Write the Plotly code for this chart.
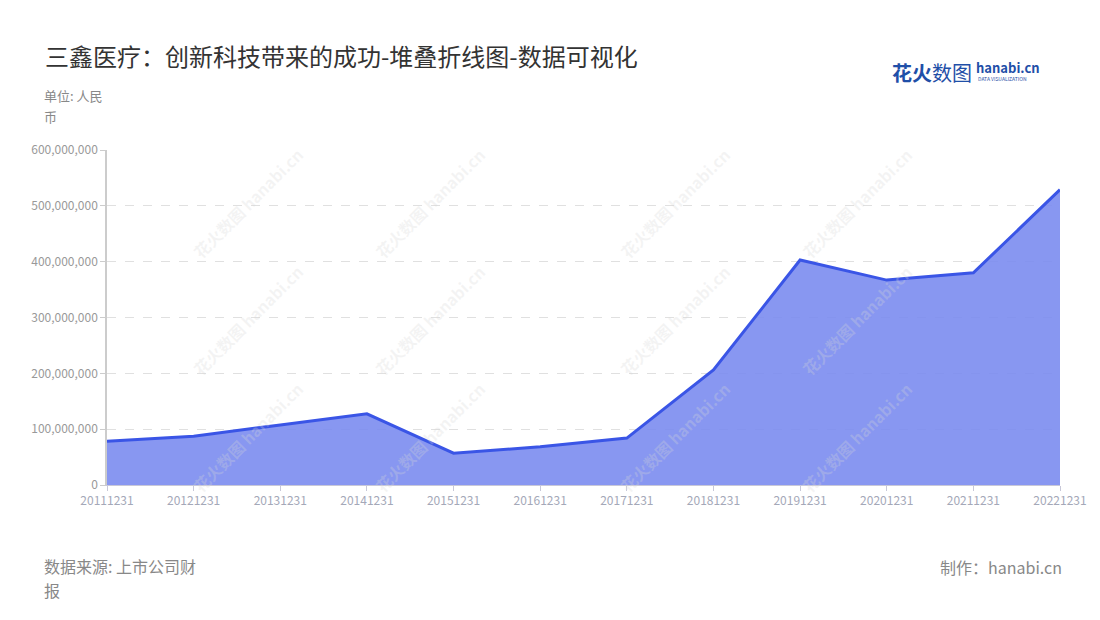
import plotly.graph_objects as go

# 报告期 / 数值 (人民币)
dates = ["20111231", "20121231", "20131231", "20141231", "20151231", "20161231",
         "20171231", "20181231", "20191231", "20201231", "20211231", "20221231"]
values = [78_500_000, 87_500_000, 107_500_000, 127_500_000, 57_000_000, 68_500_000,
          84_000_000, 206_000_000, 403_000_000, 367_000_000, 380_000_000, 529_000_000]

y_ticks = [0, 100_000_000, 200_000_000, 300_000_000, 400_000_000, 500_000_000, 600_000_000]

FONT = "Noto Sans CJK SC"

# page body adds an offset; layout numbers below are screen pixels
OFF = 8
L, R, T, B = 107, 1060, 150, 485


def px(x):
    return (x - L) / (R - L)


def py(y):
    return (B - y) / (B - T)


def note(x, y, text, size, color, xanchor="left"):
    return dict(x=px(x), y=py(y), xref="paper", yref="paper", text=text,
                showarrow=False, xanchor=xanchor, yanchor="middle",
                font=dict(family=FONT, size=size, color=color))


fig = go.Figure()
fig.add_scatter(
    x=dates,
    y=values,
    mode="lines",
    line=dict(color="#3a55e6", width=3),
    fill="tozeroy",
    fillcolor="rgba(120,137,239,0.88)",
    hoverinfo="x+y",
)

annotations = []
# tiled watermarks
for cx in [185, 430, 675, 920]:
    for cy in [140, 320, 500]:
        annotations.append(dict(
            x=px(cx), y=py(cy), xref="paper", yref="paper",
            text="<b>花火数图</b> <b>hanabi.cn</b>", showarrow=False, textangle=-45,
            font=dict(family=FONT, size=16, color="rgba(215,215,215,0.28)"),
        ))

annotations += [
    note(43, 55, "三鑫医疗：创新科技带来的成功-堆叠折线图-数据可视化", 24, "#333333"),
    note(42, 96, "单位: 人民", 13, "#888888"),
    note(42, 116, "币", 13, "#888888"),
    note(42, 566, "数据来源: 上市公司财", 16, "#888888"),
    note(42, 590, "报", 16, "#888888"),
    note(1064, 567, "制作：hanabi.cn", 16, "#888888", xanchor="right"),
    # logo
    note(890, 72, "<b>花火</b>数图", 20, "#1f4fa8"),
    note(974, 68, "<b>hanabi.cn</b>", 13, "#1f4fa8"),
    note(976, 79, "DATA VISUALIZATION", 5, "#1f4fa8"),
]

fig.update_layout(
    width=1100,
    height=620,
    margin=dict(l=L - OFF, r=1100 - R + OFF, t=T - OFF, b=620 - B + OFF),
    paper_bgcolor="white",
    plot_bgcolor="white",
    showlegend=False,
    font=dict(family=FONT),
    annotations=annotations,
    xaxis=dict(
        type="category",
        range=[0, len(dates) - 1],
        showgrid=False,
        showline=True,
        linecolor="#c8c8d8",
        ticks="outside",
        ticklen=5,
        tickcolor="#c8c8d8",
        tickfont=dict(size=12, color="#a4a8b8"),
        zeroline=False,
    ),
    yaxis=dict(
        range=[0, 600_000_000],
        tickvals=y_ticks,
        tickformat=",d",
        showgrid=True,
        gridcolor="#e0e0e0",
        griddash="dash",
        showline=True,
        linecolor="#cccccc",
        linewidth=1.5,
        ticks="outside",
        ticklen=5,
        tickcolor="#cccccc",
        tickfont=dict(size=12, color="#999999"),
        zeroline=False,
    ),
)

fig.write_html("out.html")
